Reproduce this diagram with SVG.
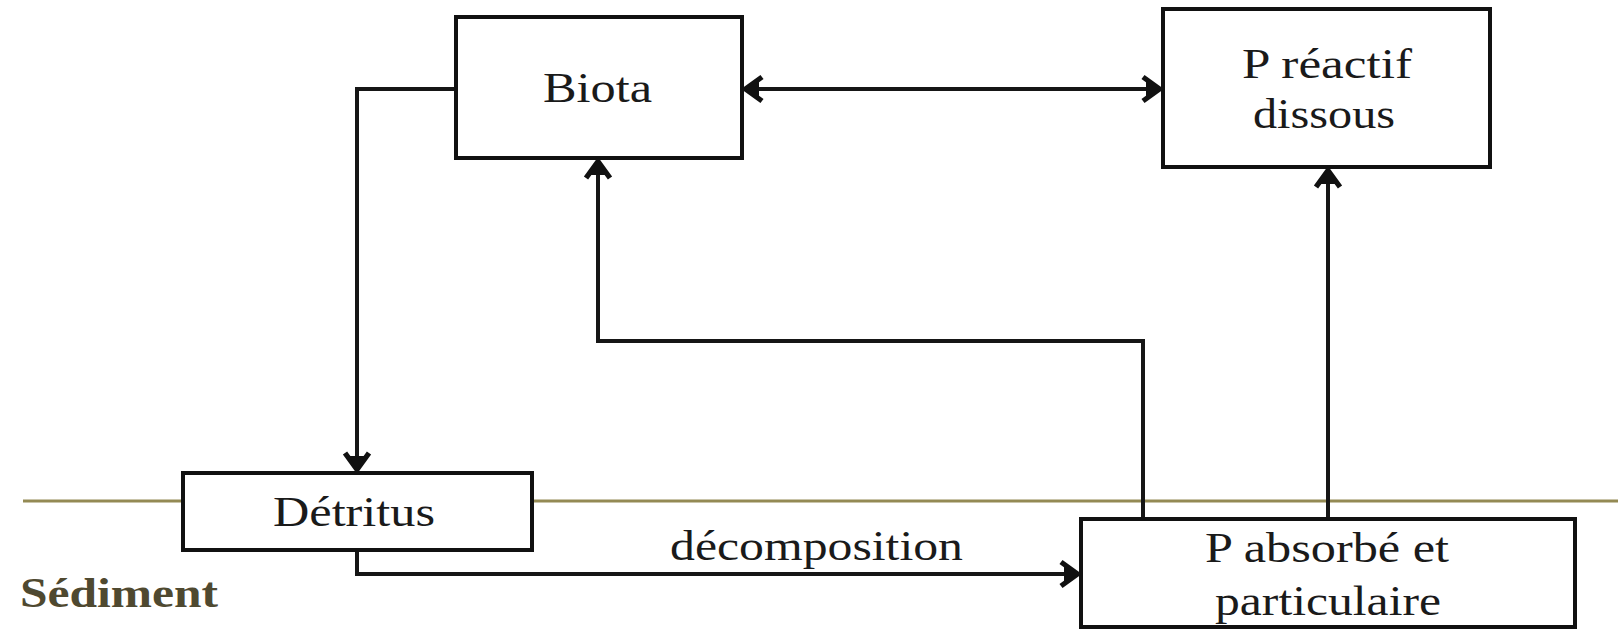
<svg xmlns="http://www.w3.org/2000/svg" width="1618" height="630" viewBox="0 0 1618 630">
  <style>
    .box { fill: #ffffff; stroke: #111111; stroke-width: 4; }
    .lbl { font-family: "Liberation Serif", "Times New Roman", serif; font-size: 42px; fill: #1a1a1a; }
    .conn { fill: none; stroke: #161616; stroke-width: 4; }
    .sed { stroke: #948a54; stroke-width: 3; }
    .sedlbl { font-family: "Liberation Serif", "Times New Roman", serif; font-size: 42px; font-weight: bold; fill: #4f4930; }
  </style>
  <defs>
    <marker id="arr" markerUnits="userSpaceOnUse" markerWidth="30" markerHeight="30" viewBox="-16 -10 18 20" refX="0" refY="0" orient="auto-start-reverse">
      <path d="M-12,-8 L-1,0 L-12,8" fill="none" stroke="#111111" stroke-width="3.5" stroke-linejoin="miter"/>
      <path d="M0,0 L-10,-5 L-10,5 Z" fill="#111111"/>
    </marker>
  </defs>
  <rect x="0" y="0" width="1618" height="630" fill="#ffffff"/>

  <line class="sed" x1="23" y1="501" x2="1618" y2="501"/>
  <text class="sedlbl" x="20" y="607" textLength="198" lengthAdjust="spacingAndGlyphs">Sédiment</text>

  <g id="connectors">
    <path class="conn" d="M456,89 H357 V471" marker-end="url(#arr)"/>
    <path class="conn" d="M357,550 V574 H1079" marker-end="url(#arr)"/>
    <path class="conn" d="M1143,519 V341 H598 V160" marker-end="url(#arr)"/>
    <path class="conn" d="M1328,519 V169" marker-end="url(#arr)"/>
    <path class="conn" d="M744,89 H1161" marker-start="url(#arr)" marker-end="url(#arr)"/>
    <text class="lbl" x="670" y="560" textLength="293" lengthAdjust="spacingAndGlyphs">décomposition</text>
  </g>

  <g id="biota">
    <rect class="box" x="456" y="17" width="286" height="141"/>
    <text class="lbl" x="543" y="102" textLength="109" lengthAdjust="spacingAndGlyphs">Biota</text>
  </g>

  <g id="p-reactif">
    <rect class="box" x="1163" y="9" width="327" height="158"/>
    <text class="lbl" x="1242" y="78" textLength="170" lengthAdjust="spacingAndGlyphs">P réactif</text>
    <text class="lbl" x="1253" y="128" textLength="142" lengthAdjust="spacingAndGlyphs">dissous</text>
  </g>

  <g id="detritus">
    <rect class="box" x="183" y="473" width="349" height="77"/>
    <text class="lbl" x="273" y="526" textLength="162" lengthAdjust="spacingAndGlyphs">Détritus</text>
  </g>

  <g id="p-absorbe">
    <rect class="box" x="1081" y="519" width="494" height="108"/>
    <text class="lbl" x="1205" y="562" textLength="244" lengthAdjust="spacingAndGlyphs">P absorbé et</text>
    <text class="lbl" x="1215" y="615" textLength="226" lengthAdjust="spacingAndGlyphs">particulaire</text>
  </g>
</svg>
